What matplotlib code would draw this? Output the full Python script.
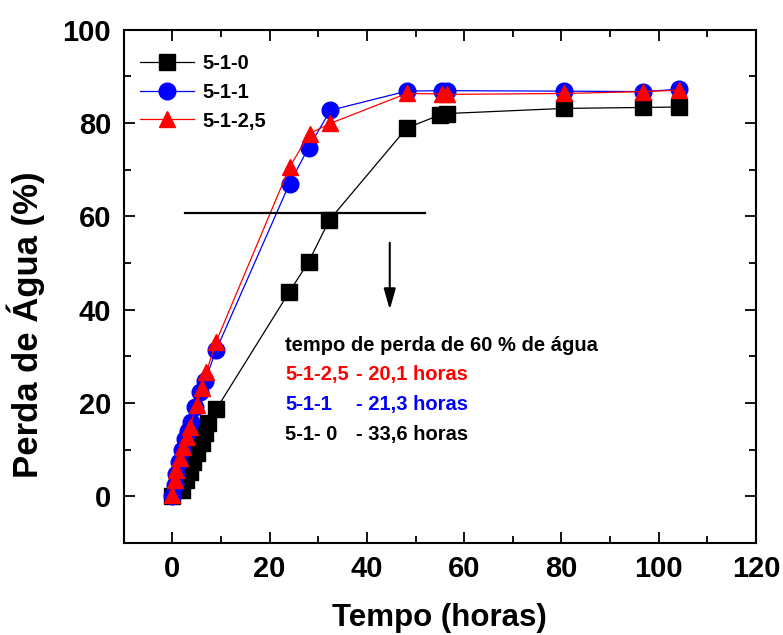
import matplotlib
matplotlib.use("Agg")
import matplotlib.pyplot as plt
from matplotlib.ticker import MultipleLocator

plt.rcParams['font.family'] = ['Liberation Sans', 'DejaVu Sans']
plt.rcParams['font.weight'] = 'bold'

# 5-1-0
t_510 = [0, 1.9, 2.9, 3.6, 4.2, 5.0, 6.0, 6.7, 7.4, 9.0, 24.0, 28.0, 32.3,
         48.2, 55.0, 56.5, 80.6, 96.7, 104.2]
y_510 = [0, 1.3, 3.4, 5.2, 7.4, 9.2, 11.4, 13.5, 15.6, 18.6, 43.7, 50.2, 59.2,
         78.9, 81.7, 82.0, 83.1, 83.3, 83.4]

# 5-1-1
t_511 = [0, 0.5, 0.8, 1.3, 2.0, 2.6, 3.2, 3.9, 4.6, 5.6, 6.7, 9.0, 24.1, 28.0,
         32.5, 48.2, 55.5, 56.5, 80.6, 96.7, 104.2]
y_511 = [0, 2.5, 4.8, 7.3, 10.0, 12.3, 14.0, 15.9, 19.1, 22.4, 24.7, 31.3, 67.0,
         74.7, 82.7, 86.8, 86.9, 86.9, 86.8, 86.7, 87.2]

# 5-1-2,5
t_5125 = [0, 0.5, 0.8, 1.5, 2.2, 3.0, 3.6, 5.0, 6.0, 7.0, 9.0, 24.1, 28.2,
          32.5, 48.2, 55.5, 56.5, 80.6, 96.7, 104.2]
y_5125 = [0.3, 3.4, 5.6, 8.1, 10.6, 12.8, 14.9, 19.5, 23.1, 26.6, 33.1, 70.5,
          77.7, 79.9, 86.3, 86.2, 86.1, 86.3, 86.7, 87.0]

series = [
    ("5-1-0", t_510, y_510, 'black', 's'),
    ("5-1-1", t_511, y_511, 'blue', 'o'),
    ("5-1-2,5", t_5125, y_5125, 'red', '^'),
]

# annotation
level_60 = 60.6
level_x = [2.7, 51.9]
arrow_x = 44.7
arrow_y = [54.9, 39.4]
note_title = "tempo de perda de 60 % de água"
note_names = ["5-1-2,5", "5-1-1", "5-1- 0"]
note_times = ["- 20,1 horas", "- 21,3 horas", "- 33,6 horas"]
note_colors = ['red', 'blue', 'black']

fig = plt.figure(figsize=(7.83, 6.35), dpi=100)
ax = fig.add_axes([0.158, 0.145, 0.8075, 0.8085])

for name, t, y, c, m in series:
    ax.plot(t, y, color=c, lw=0.9, marker=m, markersize=12,
            markerfacecolor=c, markeredgecolor=c, label=name)

ax.plot(level_x, [level_60, level_60], color='black', lw=1.6)
ax.annotate('', xy=(arrow_x, arrow_y[1]), xytext=(arrow_x, arrow_y[0]),
            arrowprops=dict(arrowstyle='-|>,head_width=0.2,head_length=0.7',
                            color='black', lw=1.5, mutation_scale=18))

ax.text(23.2, 32.4, note_title, fontsize=14.5, fontweight='bold',
        va='center', ha='left')
for i, (n, tt, c) in enumerate(zip(note_names, note_times, note_colors)):
    yy = 26.0 - i * 6.35
    ax.text(23.2, yy, n, color=c, fontsize=14.5, fontweight='bold',
            va='center', ha='left')
    ax.text(37.7, yy, tt, color=c, fontsize=14.5, fontweight='bold',
            va='center', ha='left')

ax.set_xlim(-10, 120)
ax.set_ylim(-10, 100)
ax.xaxis.set_major_locator(MultipleLocator(20))
ax.xaxis.set_minor_locator(MultipleLocator(10))
ax.yaxis.set_major_locator(MultipleLocator(20))
ax.yaxis.set_minor_locator(MultipleLocator(10))
ax.tick_params(which='both', direction='in', top=True, right=True, width=1.3)
ax.tick_params(which='major', length=8, labelsize=21, pad=9)
ax.tick_params(which='minor', length=5)
for lab in ax.get_xticklabels() + ax.get_yticklabels():
    lab.set_fontweight('bold')
for s in ax.spines.values():
    s.set_linewidth(1.5)

ax.set_xlabel("Tempo (horas)", fontsize=22.5, fontweight='bold')
ax.set_ylabel("Perda de Água (%)", fontsize=25, fontweight='bold')
ax.xaxis.set_label_coords(0.5, -0.117)
ax.yaxis.set_label_coords(-0.125, 0.4245)

ax.legend(loc='upper left', bbox_to_anchor=(0.025, 0.952), frameon=False,
          handlelength=2.7, handletextpad=0.4,
          labelspacing=0.48, borderpad=0, borderaxespad=0,
          prop={'weight': 'bold', 'size': 14.5})

fig.savefig("out.png", dpi=100)
